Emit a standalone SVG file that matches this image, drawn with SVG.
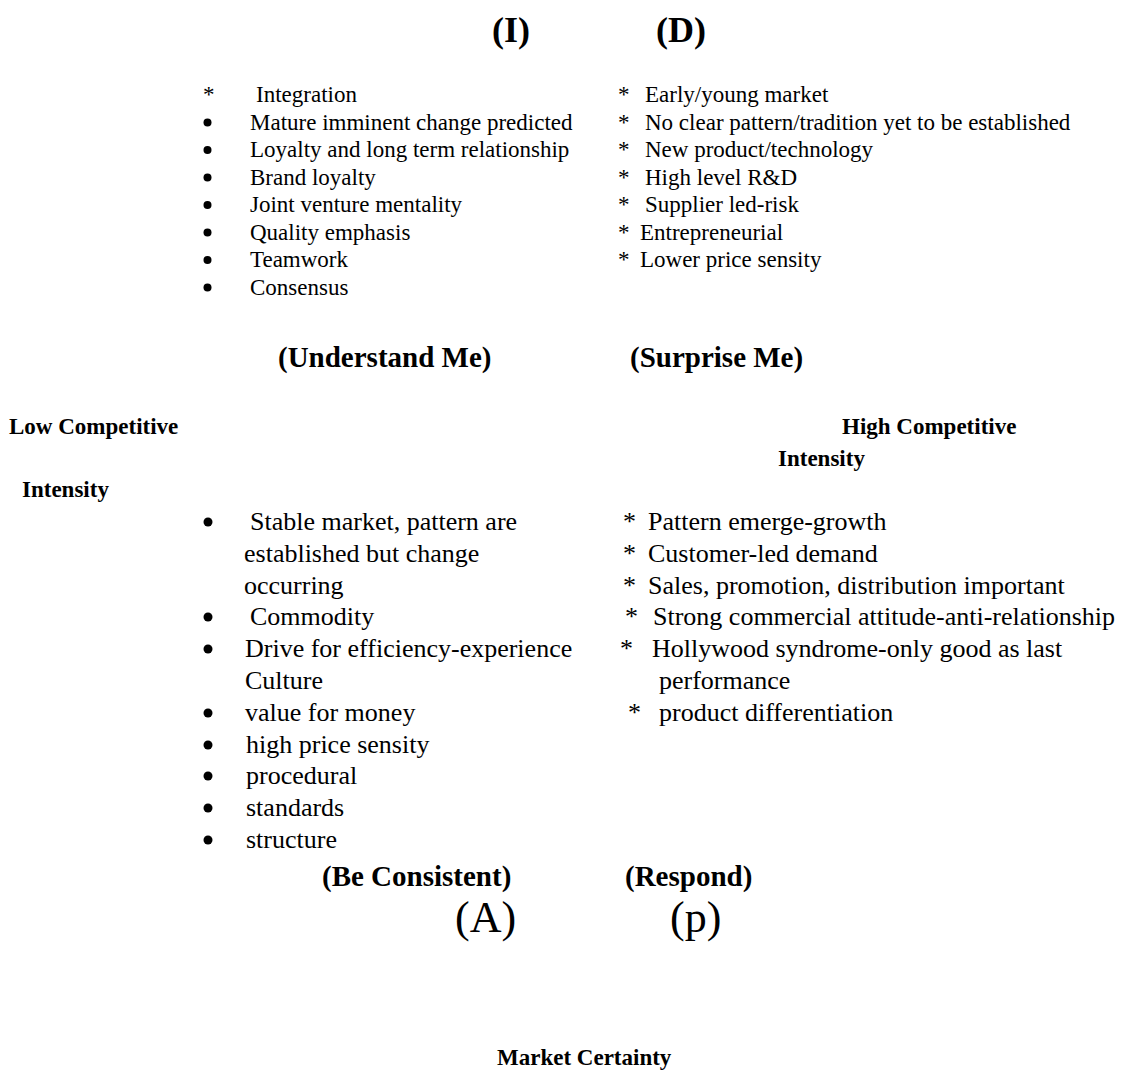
<svg xmlns="http://www.w3.org/2000/svg" width="1124" height="1070" viewBox="0 0 1124 1070">
  <defs>
    <style>
      text { font-family: "Liberation Serif", "Times New Roman", serif; fill: #000; }
      .corner { font-size: 36px; font-weight: bold; }
      .letter { font-size: 44px; }
      .head { font-size: 29px; font-weight: bold; }
      .axis { font-size: 23px; font-weight: bold; }
      .sm { font-size: 23px; }
      .lg { font-size: 26px; }
      .dot { fill: #000; }
    </style>
    <circle id="dot-s" r="4" class="dot"/>
    <circle id="dot-l" r="4.5" class="dot"/>
  </defs>
  <rect width="1124" height="1070" fill="#fff"/>

  <!-- quadrant letters at the top -->
  <g id="label-I"><text class="corner" x="492" y="42">(I)</text></g>
  <g id="label-D"><text class="corner" x="656" y="42">(D)</text></g>

  <!-- upper-left quadrant: Understand Me -->
  <g id="quadrant-understand">
    <text class="sm" x="203" y="102">*</text>
    <text class="sm" x="256" y="102">Integration</text>
    <use href="#dot-s" x="207.5" y="122.5"/>
    <text class="sm" x="250" y="129.5">Mature imminent change predicted</text>
    <use href="#dot-s" x="207.5" y="150"/>
    <text class="sm" x="250" y="157">Loyalty and long term relationship</text>
    <use href="#dot-s" x="207.5" y="177.5"/>
    <text class="sm" x="250" y="184.5">Brand loyalty</text>
    <use href="#dot-s" x="207.5" y="205"/>
    <text class="sm" x="250" y="212">Joint venture mentality</text>
    <use href="#dot-s" x="207.5" y="232.5"/>
    <text class="sm" x="250" y="239.5">Quality emphasis</text>
    <use href="#dot-s" x="207.5" y="260"/>
    <text class="sm" x="250" y="267">Teamwork</text>
    <use href="#dot-s" x="207.5" y="287.5"/>
    <text class="sm" x="250" y="294.5">Consensus</text>
    <text class="head" x="278" y="367">(Understand Me)</text>
  </g>

  <!-- upper-right quadrant: Surprise Me -->
  <g id="quadrant-surprise">
    <text class="sm" x="618" y="102">*</text>
    <text class="sm" x="645" y="102">Early/young market</text>
    <text class="sm" x="618" y="129.5">*</text>
    <text class="sm" x="645" y="129.5">No clear pattern/tradition yet to be established</text>
    <text class="sm" x="618" y="157">*</text>
    <text class="sm" x="645" y="157">New product/technology</text>
    <text class="sm" x="618" y="184.5">*</text>
    <text class="sm" x="645" y="184.5">High level R&amp;D</text>
    <text class="sm" x="618" y="212">*</text>
    <text class="sm" x="645" y="212">Supplier led-risk</text>
    <text class="sm" x="618" y="239.5">*</text>
    <text class="sm" x="640" y="239.5">Entrepreneurial</text>
    <text class="sm" x="618" y="267">*</text>
    <text class="sm" x="640" y="267">Lower price sensity</text>
    <text class="head" x="630" y="367">(Surprise Me)</text>
  </g>

  <!-- horizontal axis ends -->
  <g id="axis-low">
    <text class="axis" x="9" y="434">Low Competitive</text>
    <text class="axis" x="22" y="497">Intensity</text>
  </g>
  <g id="axis-high">
    <text class="axis" x="842" y="434">High Competitive</text>
    <text class="axis" x="778" y="466">Intensity</text>
  </g>

  <!-- lower-left quadrant: Be Consistent -->
  <g id="quadrant-consistent">
    <use href="#dot-l" x="208" y="522"/>
    <text class="lg" x="250" y="530">Stable market, pattern are</text>
    <text class="lg" x="244" y="562">established but change</text>
    <text class="lg" x="244" y="594">occurring</text>
    <use href="#dot-l" x="208" y="617"/>
    <text class="lg" x="250" y="625">Commodity</text>
    <use href="#dot-l" x="208" y="649"/>
    <text class="lg" x="245" y="657">Drive for efficiency-experience</text>
    <text class="lg" x="245" y="689">Culture</text>
    <use href="#dot-l" x="208" y="713"/>
    <text class="lg" x="245" y="721">value for money</text>
    <use href="#dot-l" x="208" y="745"/>
    <text class="lg" x="246" y="753">high price sensity</text>
    <use href="#dot-l" x="208" y="776"/>
    <text class="lg" x="246" y="784">procedural</text>
    <use href="#dot-l" x="208" y="808"/>
    <text class="lg" x="246" y="816">standards</text>
    <use href="#dot-l" x="208" y="840"/>
    <text class="lg" x="246" y="848">structure</text>
    <text class="head" x="322" y="886">(Be Consistent)</text>
  </g>

  <!-- lower-right quadrant: Respond -->
  <g id="quadrant-respond">
    <text class="lg" x="623" y="530">*</text>
    <text class="lg" x="648" y="530">Pattern emerge-growth</text>
    <text class="lg" x="623" y="562">*</text>
    <text class="lg" x="648" y="562">Customer-led demand</text>
    <text class="lg" x="623" y="594">*</text>
    <text class="lg" x="648" y="594">Sales, promotion, distribution important</text>
    <text class="lg" x="625" y="625">*</text>
    <text class="lg" x="653" y="625">Strong commercial attitude-anti-relationship</text>
    <text class="lg" x="620" y="657">*</text>
    <text class="lg" x="652" y="657">Hollywood syndrome-only good as last</text>
    <text class="lg" x="659" y="689">performance</text>
    <text class="lg" x="628" y="721">*</text>
    <text class="lg" x="659" y="721">product differentiation</text>
    <text class="head" x="625" y="886">(Respond)</text>
  </g>

  <!-- quadrant letters at the bottom -->
  <g id="label-A"><text class="letter" x="455" y="932">(A)</text></g>
  <g id="label-p"><text class="letter" x="670" y="932">(p)</text></g>

  <!-- vertical axis -->
  <g id="axis-certainty"><text class="axis" x="497" y="1065">Market Certainty</text></g>

  <!-- no connectors are drawn -->
  <g id="connectors"/>
</svg>
